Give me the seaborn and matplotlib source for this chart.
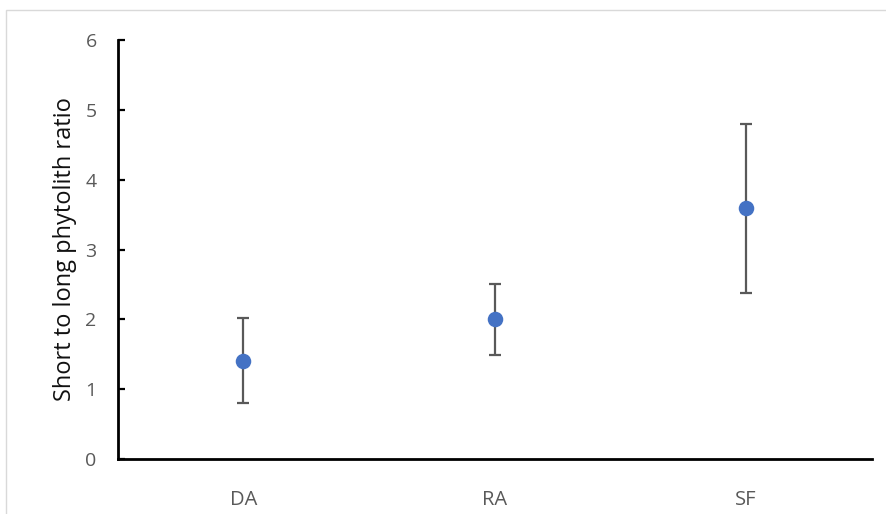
import matplotlib
matplotlib.use("Agg")
import matplotlib.pyplot as plt
from matplotlib.patches import Rectangle
import seaborn as sns
import pandas as pd

# Phytolith ratio by site, mean with symmetric error
sites = ["DA", "RA", "SF"]
ratio_mean = [1.41, 2.00, 3.59]
ratio_err = [0.61, 0.51, 1.21]
y_ticks = [0, 1, 2, 3, 4, 5, 6]

df = pd.DataFrame({"site": sites, "ratio": ratio_mean, "err": ratio_err})

sns.set_theme(style="white")
plt.rcParams["font.family"] = ["Open Sans", "DejaVu Sans"]

fig = plt.figure(figsize=(8.87, 5.14), dpi=100)
ax = fig.add_axes([117.5 / 887, 1 - 459 / 514, (872 - 117.5) / 887, (459 - 40) / 514])

# outer chart frame
fig.patches.append(Rectangle((6 / 887, -0.1), 1.2, 1 - 10 / 514 + 0.1,
                             transform=fig.transFigure, fill=False,
                             edgecolor="#d9d9d9", linewidth=1.0, zorder=0))

pos = list(range(len(sites)))
ax.errorbar(pos, df["ratio"], yerr=df["err"], fmt="none", ecolor="#595959",
            elinewidth=1.6, capsize=4.5, capthick=1.6, zorder=2)
sns.scatterplot(data=df, x="site", y="ratio", ax=ax, color="#4472C4",
                s=125, edgecolor="#4472C4", linewidth=0, zorder=3)

ax.set_xlim(-0.5, 2.5)
ax.set_ylim(0, 6)
ax.set_yticks(y_ticks)
ax.set_xticks(pos)
ax.set_xticklabels(sites)

for side in ["top", "right"]:
    ax.spines[side].set_visible(False)
for side in ["left", "bottom"]:
    ax.spines[side].set_color("black")
    ax.spines[side].set_linewidth(2.0)

ax.tick_params(axis="y", direction="in", length=5, width=1.6, color="black",
               left=True, pad=15, labelsize=14, labelcolor="#595959")
ax.tick_params(axis="x", bottom=False, pad=16, labelsize=14.5, labelcolor="#595959")

ax.set_xlabel("")
ax.set_ylabel("Short to long phytolith ratio", fontsize=17, color="#111111")
ax.yaxis.set_label_coords(-0.054, 0.5)

fig.savefig("out.png", dpi=100)
